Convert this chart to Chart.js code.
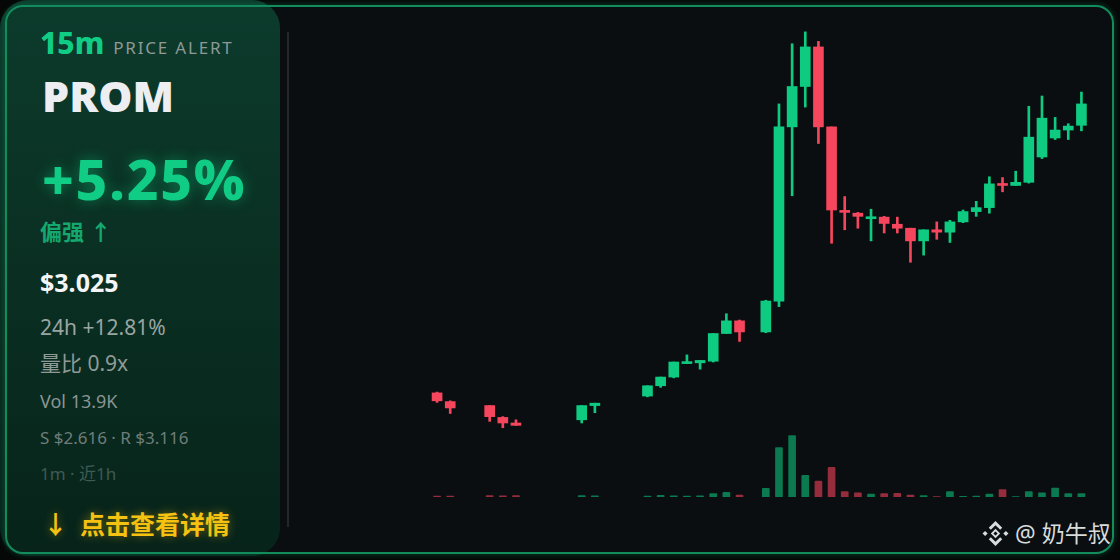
<!DOCTYPE html>
<html>
<head>
<meta charset="utf-8">
<script src="https://cdn.jsdelivr.net/npm/chart.js@4.4.1/dist/chart.umd.min.js"></script>
<style>
html, body { margin: 0; padding: 0; background: #050807; }
#card { position: relative; width: 1120px; height: 560px; overflow: hidden; background: #050807;
  font-family: "Noto Sans", "Noto Sans CJK SC", sans-serif; }
#frameBg { position: absolute; left: 5px; top: 5px; width: 1109px; height: 549px; border-radius: 18px; background: #0a0e11; }
#side { position: absolute; left: 0; top: 0; width: 280px; height: 556px; border-radius: 28px;
  background: linear-gradient(180deg, #0c3b2c 0%, #0a2f22 50%, #07231a 100%); }
#frame { position: absolute; left: 5px; top: 5px; width: 1105px; height: 545px; border: 2px solid #138c5d;
  border-radius: 18px; box-shadow: 0 0 6px rgba(19,140,93,.45); pointer-events: none; }
#sep { position: absolute; left: 287px; top: 32px; width: 2px; height: 495px; background: #22272b; }
.t { position: absolute; left: 40px; line-height: 1; white-space: nowrap; }
#tf { top: 28px; font-size: 30px; font-weight: 800; color: #10cc84; }
#tf span { font-size: 17px; font-weight: 400; color: #8d9a96; letter-spacing: 1.8px; margin-left: 9px; }
#sym { top: 74px; font-size: 43px; font-weight: 900; color: #eceef2; left: 42px; }
#chg { top: 151px; font-size: 55px; font-weight: 800; color: #10cc84; left: 42px; letter-spacing: 1.8px;
  text-shadow: 0 0 14px rgba(14,203,129,.45); }
#bias { top: 220px; font-size: 22px; font-weight: 700; color: #14a86e; }
#price { top: 270px; font-size: 25px; font-weight: 700; color: #f4f5f7; }
#d24 { top: 317px; font-size: 21px; color: #9aa5a2; }
#vr { top: 353px; font-size: 21px; color: #8f9a97; }
#vol { top: 392px; font-size: 18px; color: #8a9592; }
#sr { top: 429px; font-size: 17px; color: #6f7d79; }
#rng { top: 465px; font-size: 17px; color: #3f5a52; }
#cta { top: 512px; font-size: 25px; font-weight: 700; color: #f5c211; left: 43px;
  text-shadow: 0 0 10px rgba(240,185,11,.45); }
#cta span { margin-left: 12px; }
#wm { position: absolute; left: 982px; top: 519px; height: 28px; display: flex; align-items: center;
  color: #d8dcdc; font-size: 23px; line-height: 1; white-space: nowrap; }
#wm svg { margin-right: 6px; }
#chart { position: absolute; left: 299px; top: 20px; }
</style>
</head>
<body>
<div id="card">
  <div id="frameBg"></div>
  <div id="side"></div>
  <div id="frame"></div>
  <div id="sep"></div>

  <div class="t" id="tf">15m<span>PRICE ALERT</span></div>
  <div class="t" id="sym">PROM</div>
  <div class="t" id="chg">+5.25%</div>
  <div class="t" id="bias">偏强 ↑</div>
  <div class="t" id="price">$3.025</div>
  <div class="t" id="d24">24h +12.81%</div>
  <div class="t" id="vr">量比 0.9x</div>
  <div class="t" id="vol">Vol 13.9K</div>
  <div class="t" id="sr">S $2.616 · R $3.116</div>
  <div class="t" id="rng">1m · 近1h</div>
  <div class="t" id="cta">↓<span>点击查看详情</span></div>

  <div id="wm">
    <svg width="27" height="27" viewBox="0 0 26 26">
      <g fill="#d8dcdc">
        <path d="M13 8.5 L17.5 13 L13 17.5 L8.5 13 Z M13 11 L11 13 L13 15 L15 13 Z" fill-rule="evenodd"/>
        <path d="M3 10.5 L5.5 13 L3 15.5 L0.5 13 Z"/>
        <path d="M23 10.5 L25.5 13 L23 15.5 L20.5 13 Z"/>
        <path d="M13 1 L19.5 7.5 L17.5 9.5 L13 5 L8.5 9.5 L6.5 7.5 Z"/>
        <path d="M13 25 L19.5 18.5 L17.5 16.5 L13 21 L8.5 16.5 L6.5 18.5 Z"/>
      </g>
    </svg>
    <span>@ 奶牛叔</span>
  </div>

  <canvas id="chart" width="789" height="477"></canvas>
</div>

<script>
// 1 phút / nến, 60 nến gần nhất (null = không có giao dịch)
const minutes = Array.from({ length: 60 }, (_, i) => String(i).padStart(2, '0'));

const opens = [
  null, null, null, null, null, null, null, null, null, null,
  2.660, 2.649, null, null, 2.644, 2.629, 2.622, null, null, null,
  null, 2.626, 2.644, null, null, null, 2.656, 2.669, 2.680, 2.697,
  2.698, 2.700, 2.735, 2.751, null, 2.737, 2.776, 2.996, 3.047, 3.097,
  2.996, 2.890, 2.887, 2.880, 2.882, 2.873, 2.868, 2.852, 2.866, 2.863,
  2.876, 2.889, 2.894, 2.924, 2.922, 2.926, 2.958, 2.982, 2.992, 2.998
];
const highs = [
  null, null, null, null, null, null, null, null, null, null,
  2.661, 2.650, null, null, 2.644, 2.630, 2.626, null, null, null,
  null, 2.644, 2.647, null, null, null, 2.669, 2.680, 2.699, 2.708,
  2.701, 2.735, 2.760, 2.752, null, 2.777, 3.025, 3.101, 3.116, 3.104,
  2.996, 2.908, 2.888, 2.892, 2.883, 2.882, 2.868, 2.866, 2.876, 2.878,
  2.891, 2.902, 2.933, 2.932, 2.940, 3.022, 3.035, 3.008, 3.000, 3.040
];
const lows = [
  null, null, null, null, null, null, null, null, null, null,
  2.648, 2.634, null, null, 2.624, 2.616, 2.619, null, null, null,
  null, 2.622, 2.635, null, null, null, 2.655, 2.667, 2.679, 2.697,
  2.690, 2.699, 2.735, 2.725, null, 2.736, 2.769, 2.909, 3.021, 2.975,
  2.849, 2.866, 2.868, 2.852, 2.862, 2.862, 2.825, 2.834, 2.854, 2.850,
  2.875, 2.883, 2.887, 2.914, 2.922, 2.925, 2.956, 2.980, 2.980, 2.991
];
const closes = [
  null, null, null, null, null, null, null, null, null, null,
  2.650, 2.641, null, null, 2.630, 2.622, 2.619, null, null, null,
  null, 2.644, 2.647, null, null, null, 2.669, 2.680, 2.699, 2.699,
  2.701, 2.735, 2.751, 2.737, null, 2.776, 2.996, 3.047, 3.097, 2.996,
  2.891, 2.888, 2.883, 2.882, 2.874, 2.868, 2.852, 2.866, 2.863, 2.876,
  2.889, 2.894, 2.924, 2.922, 2.926, 2.983, 3.007, 2.992, 2.997, 3.025
];
const volumes = [
  null, null, null, null, null, null, null, null, null, null,
  280, 260, null, null, 410, 290, 400, null, null, null,
  null, 420, 300, null, null, null, 270, 430, 300, 280,
  290, 960, 1290, 560, null, 2390, 13560, 16860, 5940, 4400,
  8140, 1460, 1180, 830, 910, 990, 550, 360, 140, 1460,
  190, 280, 830, 2010, 140, 1460, 1180, 2480, 910, 910
];

const upColor = '#0ecb81';
const downColor = '#f6465d';
const upVolColor = '#0b7a50';
const downVolColor = '#962d3c';

// Màu theo hướng nến
const isUp = opens.map((o, i) => o !== null && closes[i] >= o);
const candleColors = isUp.map(u => u ? upColor : downColor);
const volColors = isUp.map(u => u ? upVolColor : downVolColor);

const wickData = lows.map((l, i) => l === null ? null : [l, highs[i]]);
const bodyData = opens.map((o, i) => o === null ? null : [o, closes[i]]);

// Khoảng giá: để chỗ trống phía dưới cho khối lượng
const hiPrice = Math.max(...highs.filter(v => v !== null));
const loPrice = Math.min(...lows.filter(v => v !== null));
const priceRange = hiPrice - loPrice;
const maxVol = Math.max(...volumes.filter(v => v !== null));

const ctx = document.getElementById('chart').getContext('2d');
const candleChart = new Chart(ctx, {
  type: 'bar',
  data: {
    labels: minutes,
    datasets: [{
      label: 'body',
      data: bodyData,
      backgroundColor: candleColors,
      barThickness: 10,
      minBarLength: 2,
      grouped: false,
      order: 1
    }, {
      label: 'wick',
      data: wickData,
      backgroundColor: candleColors,
      barThickness: 2,
      grouped: false,
      order: 2
    }, {
      label: 'volume',
      data: volumes,
      backgroundColor: volColors,
      barThickness: 7,
      borderRadius: { topLeft: 1, topRight: 1 },
      borderSkipped: 'bottom',
      grouped: false,
      yAxisID: 'yv',
      order: 3
    }]
  },
  options: {
    responsive: false,
    animation: false,
    layout: { padding: 0 },
    plugins: { legend: { display: false }, tooltip: { enabled: false } },
    scales: {
      x: { type: 'category', display: false, offset: true, grid: { display: false } },
      y: {
        display: false,
        min: loPrice - priceRange * 0.175,
        max: hiPrice + priceRange * 0.03
      },
      yv: {
        display: false,
        min: 0,
        max: maxVol * 7.78
      }
    }
  }
});
</script>
</body>
</html>
